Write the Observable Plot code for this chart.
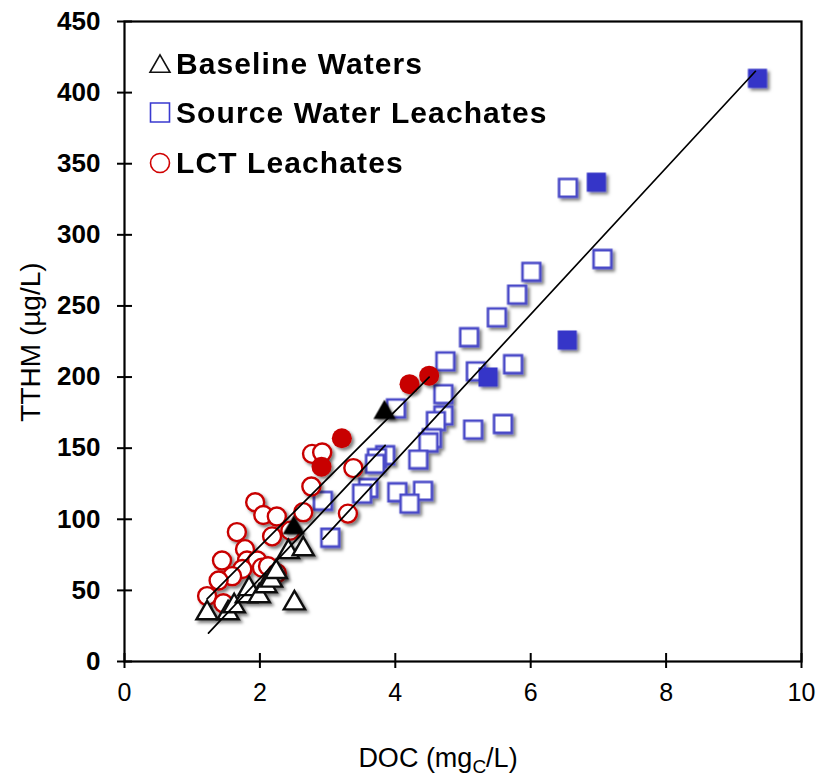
<!DOCTYPE html>
<html>
<head>
<meta charset="utf-8">
<script src="https://cdn.jsdelivr.net/npm/d3@7"></script>
<script src="https://cdn.jsdelivr.net/npm/@observablehq/plot@0.6"></script>
<style>
  body { margin: 0; background: #fff; }
  #chart { width: 818px; height: 776px; }
</style>
</head>
<body>
<div id="chart"></div>
<script>
// ---- Data ----
const xTicks = [0, 2, 4, 6, 8, 10];
const yTicks = [0, 50, 100, 150, 200, 250, 300, 350, 400, 450];

// Source Water Leachates (open squares)
const swOpenX = [6.55, 7.06, 6.01, 5.80, 5.50, 5.09, 4.74, 5.19, 5.74, 4.71, 4.01, 4.71, 4.60, 4.54, 4.49, 5.15, 5.59, 4.34, 3.85, 3.73, 3.70, 3.60, 3.51, 4.03, 4.41, 4.21, 2.93, 3.04];
const swOpenY = [333, 283, 274, 258, 242, 228, 211, 204, 209, 188, 178, 173, 169, 157, 154, 163, 167, 142, 145, 143, 139, 122, 118, 119, 120, 111, 113, 87];
// Source Water Leachates (filled squares)
const swFillX = [9.35, 6.97, 6.54, 5.37];
const swFillY = [410, 337, 226, 200];

// LCT Leachates (open circles)
const lctOpenX = [2.77, 2.92, 3.38, 2.76, 2.64, 3.30, 1.93, 2.05, 2.25, 1.66, 2.18, 2.45, 1.78, 1.44, 1.81, 1.96, 1.74, 2.03, 2.12, 2.25, 1.59, 1.39, 1.22, 1.46];
const lctOpenY = [146, 147, 136, 123, 105, 104, 112, 103, 102, 91, 88, 92, 79, 71, 71, 71, 65, 66, 67, 62, 60, 57, 46, 41];
// LCT Leachates (filled circles)
const lctFillX = [4.50, 4.21, 3.21, 2.91];
const lctFillY = [201, 195, 157, 137];

// Baseline Waters (open triangles)
const bwOpenX = [1.22, 1.53, 1.62, 1.80, 1.84, 1.99, 2.09, 2.17, 2.24, 2.42, 2.64, 2.51];
const bwOpenY = [34, 34, 39, 46, 51, 46, 53, 57, 63, 77, 79, 41];
// Baseline Waters (filled triangles)
const bwFillX = [2.50, 3.84];
const bwFillY = [94, 175];

// Fitted lines (end points)
const lctLineX = [1.22, 4.50];
const lctLineY = [44, 200];
const bwLineX = [1.24, 3.85];
const bwLineY = [20, 152];
const swLineX = [2.93, 9.32];
const swLineY = [86, 415];

// Legend
const legendLabels = ["Baseline Waters", "Source Water Leachates", "LCT Leachates"];

// ---- Styles ----
const BLUE = "#4a4ac8";
const BLUE_FILL = "#3434c8";
const RED = "#c80000";
const BLACK = "#111";
const FONT = "'Liberation Sans', Arial, Helvetica, sans-serif";

const chart = Plot.plot({
  width: 818,
  height: 776,
  marginLeft: 124,
  marginRight: 17,
  marginTop: 21,
  marginBottom: 115,
  x: { domain: [0, 10] },
  y: { domain: [0, 450] },
  style: { fontFamily: FONT, background: "white", color: "black", overflow: "visible" },
  marks: [
    Plot.axisY(yTicks, { anchor: "left", tickSize: 0, tickPadding: 24, fontSize: 26, fontWeight: "bold", label: null }),
    Plot.axisY(yTicks, { anchor: "left", tickSize: 15, dx: 8, tickFormat: () => "", strokeWidth: 2, label: null }),
    Plot.axisX(xTicks, { anchor: "bottom", tickSize: 0, tickPadding: 22, fontSize: 25, label: null }),
    Plot.axisX(xTicks, { anchor: "bottom", tickSize: 15, dy: -8, tickFormat: () => "", strokeWidth: 2, label: null }),
    Plot.frame({ stroke: "black", strokeWidth: 2.2 }),
    Plot.dot({ length: swOpenX.length }, { x: swOpenX, y: swOpenY, symbol: "square", r: 10, fill: "white", stroke: BLUE, strokeWidth: 2.6 }),
    Plot.dot({ length: swFillX.length }, { x: swFillX, y: swFillY, symbol: "square", r: 10.8, fill: BLUE_FILL, stroke: "none" }),
    Plot.dot({ length: lctOpenX.length }, { x: lctOpenX, y: lctOpenY, symbol: "circle", r: 9, fill: "white", stroke: RED, strokeWidth: 2.4 }),
    Plot.dot({ length: lctFillX.length }, { x: lctFillX, y: lctFillY, symbol: "circle", r: 10, fill: RED, stroke: "none" }),
    Plot.dot({ length: bwOpenX.length }, { x: bwOpenX, y: bwOpenY, symbol: "triangle", r: 7.9, fill: "white", stroke: BLACK, strokeWidth: 2.4 }),
    Plot.line({ length: 2 }, { x: lctLineX, y: lctLineY, stroke: "black", strokeWidth: 1.7 }),
    Plot.line({ length: 2 }, { x: bwLineX, y: bwLineY, stroke: "black", strokeWidth: 1.7 }),
    Plot.line({ length: 2 }, { x: swLineX, y: swLineY, stroke: "black", strokeWidth: 1.7 }),
    Plot.dot({ length: bwFillX.length }, { x: bwFillX, y: bwFillY, symbol: "triangle", r: 8.2, fill: "black", stroke: "none" })
  ]
});

document.getElementById("chart").appendChild(chart);

// ---- Drop shadows on markers ----
const svg = d3.select(chart);
const defs = svg.insert("defs", ":first-child");
const filt = defs.append("filter").attr("id", "mshadow")
  .attr("x", "-10%").attr("y", "-10%").attr("width", "120%").attr("height", "120%");
filt.append("feDropShadow").attr("dx", 2.5).attr("dy", 2.5).attr("stdDeviation", 1.6)
  .attr("flood-color", "#000").attr("flood-opacity", 0.5);
svg.selectAll('g[aria-label="dot"]').attr("filter", "url(#mshadow)");

// ---- Axis titles ----
svg.append("text")
  .attr("transform", "translate(40,342) rotate(-90)")
  .attr("text-anchor", "middle")
  .attr("font-family", FONT)
  .attr("font-size", 28)
  .attr("fill", "black")
  .text("TTHM (µg/L)");

const xt = svg.append("text")
  .attr("x", 438).attr("y", 767)
  .attr("text-anchor", "middle")
  .attr("font-family", FONT)
  .attr("font-size", 27)
  .attr("fill", "black");
xt.append("tspan").text("DOC (mg");
xt.append("tspan").attr("font-size", 19).attr("dy", 6).text("C");
xt.append("tspan").attr("dy", -6).text("/L)");

// ---- Legend (inside plot area) ----
const legendSymbols = [
  { sym: d3.symbolTriangle, size: 173, stroke: BLACK, cy: 66.5 },
  { sym: d3.symbolSquare, size: 361, stroke: "#3a3ad0", cy: 112.5 },
  { sym: d3.symbolCircle, size: Math.PI * 9.5 * 9.5, stroke: "#d00000", cy: 163 }
];
const baselines = [74, 122.5, 173];
const leg = svg.append("g").attr("text-anchor", "start");
legendLabels.forEach((lab, i) => {
  const s = legendSymbols[i];
  leg.append("path")
    .attr("d", d3.symbol(s.sym, s.size)())
    .attr("transform", `translate(160,${s.cy})`)
    .attr("fill", "white")
    .attr("stroke", s.stroke)
    .attr("stroke-width", 1.6);
  leg.append("text")
    .attr("x", 176).attr("y", baselines[i])
    .attr("text-anchor", "start")
    .attr("font-family", FONT)
    .attr("font-weight", "bold")
    .attr("font-size", 30)
    .attr("letter-spacing", 1.1)
    .attr("fill", "black")
    .text(lab);
});
</script>
</body>
</html>
